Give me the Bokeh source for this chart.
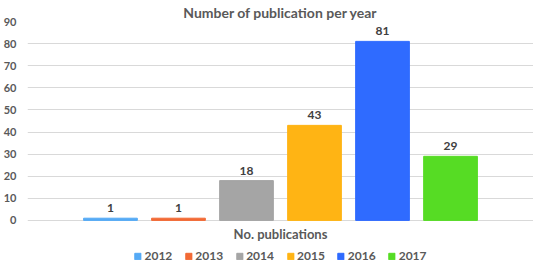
from bokeh.plotting import figure
from bokeh.models import ColumnDataSource, Range1d, LabelSet, Label, FixedTicker
from bokeh.core.properties import value
from bokeh.embed import file_html
from bokeh.resources import INLINE

years = ["2012", "2013", "2014", "2015", "2016", "2017"]
counts = [1, 1, 18, 43, 81, 29]
colors = ["#55aaf5", "#f26a35", "#a5a5a5", "#ffb414", "#2f6bff", "#56dc24"]
y_ticks = [0, 10, 20, 30, 40, 50, 60, 70, 80, 90]
category_label = "No. publications"

FONT = "Lato"
GREY = "#595959"

src = ColumnDataSource(dict(
    x=list(range(len(years))),
    count=counts,
    color=colors,
    year=years,
    label=[str(c) for c in counts],
))

p = figure(frame_width=506, frame_height=242, output_backend="svg", toolbar_location=None,
           x_range=Range1d(-1.22, len(years) - 1 + 1.22), y_range=Range1d(-19.5, 90),
           min_border_left=0, min_border_right=0, min_border_top=0, min_border_bottom=2)

p.title.text = "Number of publication per year"
p.title.align = "center"
p.title.text_font = FONT
p.title.text_font_size = "14px"
p.title.text_font_style = "bold"
p.title.text_color = GREY
p.title.standoff = 2

r = p.vbar(x="x", top="count", width=0.79, color="color", source=src,
           legend_group="year")

labels = LabelSet(x="x", y="count", text="label", source=src, y_offset=6,
                  text_align="center", text_baseline="bottom",
                  text_font=value(FONT), text_font_size=value("12px"),
                  text_font_style="bold", text_color="#404040")
p.add_layout(labels)

cat = Label(x=(len(years) - 1) / 2, y=0, y_offset=-6, text=category_label,
            text_align="center", text_baseline="top",
            text_font=FONT, text_font_size="13px", text_font_style="bold",
            text_color=GREY)
p.add_layout(cat)

p.yaxis.ticker = FixedTicker(ticks=y_ticks)
p.yaxis.axis_line_color = None
p.yaxis.major_tick_line_color = None
p.yaxis.minor_tick_line_color = None
p.yaxis.major_label_text_font = FONT
p.yaxis.major_label_text_font_size = "11px"
p.yaxis.major_label_text_font_style = "bold"
p.yaxis.major_label_text_color = GREY
p.yaxis.major_label_standoff = 5

p.xaxis.visible = False
p.xgrid.grid_line_color = None
p.ygrid.grid_line_color = "#d9d9d9"

p.outline_line_color = None

leg = p.legend[0]
leg.orientation = "horizontal"
leg.location = "bottom_center"
leg.label_text_font = FONT
leg.label_text_font_size = "12px"
leg.label_text_font_style = "bold"
leg.label_text_color = GREY
leg.label_height = 12
leg.glyph_width = 8
leg.glyph_height = 8
leg.label_standoff = 3
leg.spacing = 12
leg.padding = 0
leg.margin = 0
leg.border_line_color = None
leg.background_fill_alpha = 0

open("out.html", "w").write(file_html(p, INLINE))
